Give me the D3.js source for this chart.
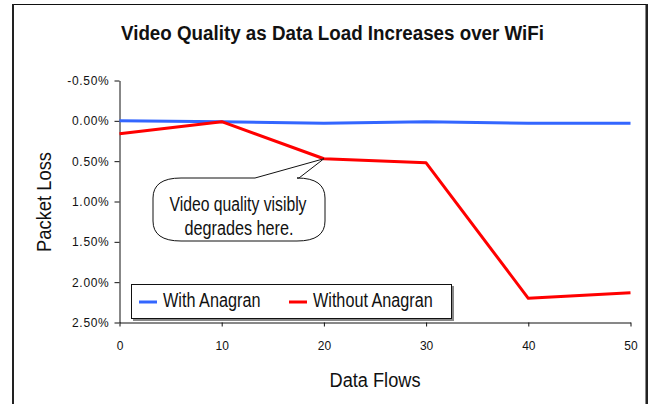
<!DOCTYPE html>
<html>
<head>
<meta charset="utf-8">
<script src="https://cdn.jsdelivr.net/npm/d3@7"></script>
<style>
  body { margin: 0; background: #fff; }
  .narrow { font-family: "Liberation Sans", Arial, sans-serif; fill: #111; }
  .tick text { font-family: "Liberation Sans", Arial, sans-serif; font-size: 12px; fill: #111; }
  .yaxis .tick text { letter-spacing: 0.7px; font-size: 12px; }
</style>
</head>
<body>
<div id="chart"></div>
<script>
// data
var flows = [0, 10, 20, 30, 40, 50];
var withAnagran = [0.00, 0.01, 0.03, 0.01, 0.03, 0.03];      // packet loss %
var withoutAnagran = [0.16, 0.01, 0.47, 0.52, 2.20, 2.13];   // packet loss %
var yTicks = [-0.5, 0, 0.5, 1.0, 1.5, 2.0, 2.5];
var xTicks = [0, 10, 20, 30, 40, 50];
var seriesNames = ["With Anagran", "Without Anagran"];
var seriesColors = ["#3366ff", "#ff0000"];

var svgWidth = 652, svgHeight = 404;

var svg = d3.select("#chart").append("svg")
  .attr("width", svgWidth)
  .attr("height", svgHeight);

// narrow (Arial Narrow look): squeeze text to the width it has in the picture
function narrowText(x, y, str, size, width, anchor) {
  return svg.append("text").attr("class", "narrow")
    .attr("x", x).attr("y", y)
    .attr("text-anchor", anchor || "start")
    .style("font-size", size + "px")
    .attr("textLength", width)
    .attr("lengthAdjust", "spacingAndGlyphs")
    .text(str);
}

// outer frame
svg.append("rect")
  .attr("x", 13).attr("y", 4.5)
  .attr("width", 633).attr("height", 420)
  .attr("fill", "#fff").attr("stroke", "#111").attr("stroke-width", 1);
svg.append("line").attr("x1", 13).attr("x2", 13).attr("y1", 4).attr("y2", 404)
  .attr("stroke", "#222").attr("stroke-width", 2);
svg.append("line").attr("x1", 647).attr("x2", 647).attr("y1", 4).attr("y2", 404)
  .attr("stroke", "#222").attr("stroke-width", 2);

var xScale = d3.scaleLinear().domain([0, 50]).range([119.5, 630.5]);
var yScale = d3.scaleLinear().domain([-0.5, 2.5]).range([80.5, 322.5]);

// axes
svg.append("g")
  .attr("transform", "translate(0," + yScale(2.5) + ")")
  .call(d3.axisBottom(xScale).tickValues(xTicks).tickSize(4).tickPadding(15).tickSizeOuter(0))
  .call(g => g.selectAll("path, line").attr("stroke", "#111"));

svg.append("g")
  .attr("class", "yaxis")
  .attr("transform", "translate(" + xScale(0) + ",0)")
  .call(d3.axisLeft(yScale).tickValues(yTicks).tickSize(5).tickPadding(5).tickSizeOuter(0)
    .tickFormat(d => (d < 0 ? "-" : "") + Math.abs(d).toFixed(2) + "%"))
  .call(g => g.selectAll("path, line").attr("stroke", "#111"));

// lines
var line = d3.line()
  .x((d, i) => xScale(flows[i]))
  .y(d => yScale(d));

[withAnagran, withoutAnagran].forEach(function(s, k) {
  svg.append("path")
    .attr("d", line(s))
    .attr("fill", "none")
    .attr("stroke", seriesColors[k])
    .attr("stroke-width", 3)
    .attr("stroke-linejoin", "round");
});

// callout pointing at the 20-flow point of the red series
var tipX = xScale(flows[2]), tipY = yScale(withoutAnagran[2]);
var bx0 = 153, bx1 = 325, by0 = 178, by1 = 241, rx = 28, ry = 20;
var callout = "M" + (bx0 + rx) + "," + by0 +
  "L255," + by0 + "L" + tipX + "," + tipY + "L299," + by0 +
  "L" + (bx1 - rx) + "," + by0 +
  "Q" + bx1 + "," + by0 + " " + bx1 + "," + (by0 + ry) +
  "L" + bx1 + "," + (by1 - ry) +
  "Q" + bx1 + "," + by1 + " " + (bx1 - rx) + "," + by1 +
  "L" + (bx0 + rx) + "," + by1 +
  "Q" + bx0 + "," + by1 + " " + bx0 + "," + (by1 - ry) +
  "L" + bx0 + "," + (by0 + ry) +
  "Q" + bx0 + "," + by0 + " " + (bx0 + rx) + "," + by0 + "Z";
svg.append("path").attr("d", callout)
  .attr("fill", "#fff").attr("stroke", "#111").attr("stroke-width", 1);
narrowText(238, 211, "Video quality visibly", 19.5, 137, "middle");
narrowText(239, 235, "degrades here.", 19.5, 109, "middle");

// legend
svg.append("rect").attr("x", 133).attr("y", 286).attr("width", 321).attr("height", 35).attr("fill", "#888");
svg.append("rect").attr("x", 131.5).attr("y", 284.5).attr("width", 320).attr("height", 34)
  .attr("fill", "#fff").attr("stroke", "#111");
var legendX = [139, 289];
var legendW = [97.5, 119.7];
seriesNames.forEach(function(name, k) {
  svg.append("line").attr("x1", legendX[k]).attr("x2", legendX[k] + 18)
    .attr("y1", 302).attr("y2", 302)
    .attr("stroke", seriesColors[k]).attr("stroke-width", 3);
  narrowText(legendX[k] + 24, 307, name, 19.5, legendW[k]);
});

// title and axis labels
narrowText(332.5, 40, "Video Quality as Data Load Increases over WiFi", 20, 423, "middle")
  .style("font-weight", "bold");

narrowText(0, 0, "Packet Loss", 20, 100, "middle")
  .attr("transform", "translate(51,202) rotate(-90)");

narrowText(375, 387, "Data Flows", 20, 91, "middle");
</script>
</body>
</html>
